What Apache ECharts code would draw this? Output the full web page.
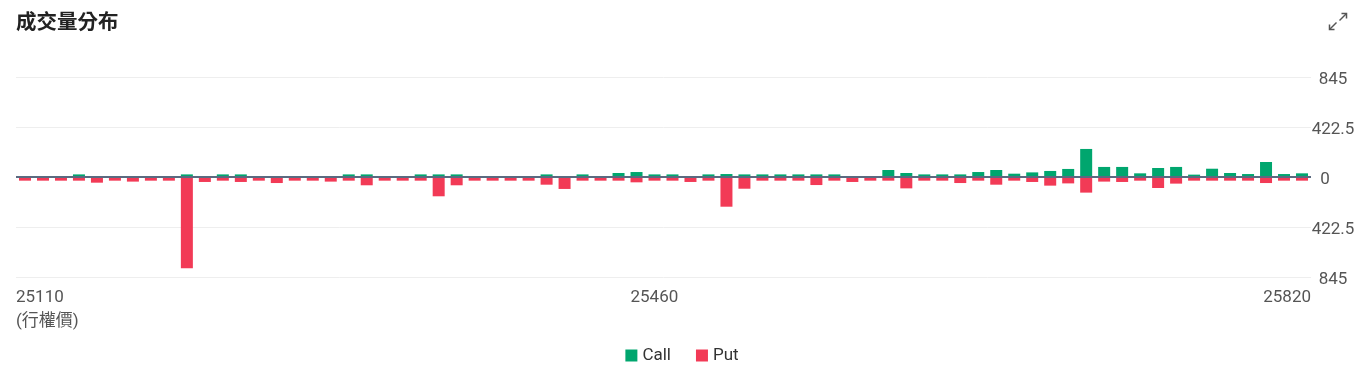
<!DOCTYPE html>
<html>
<head>
<meta charset="utf-8">
<script src="https://cdn.jsdelivr.net/npm/echarts@6/dist/echarts.min.js"></script>
<style>
html,body{margin:0;padding:0;background:#fff;}
#chart{width:1364px;height:376px;}
</style>
</head>
<body>
<div id="chart"></div>
<script>
const strikes = [
  '25110','25120','25130','25140','25150','25160','25170','25180','25190','25200',
  '25210','25220','25230','25240','25250','25260','25270','25280','25290','25300',
  '25310','25320','25330','25340','25350','25360','25370','25380','25390','25400',
  '25410','25420','25430','25440','25450','25460','25470','25480','25490','25500',
  '25510','25520','25530','25540','25550','25560','25570','25580','25590','25600',
  '25610','25620','25630','25640','25650','25660','25670','25680','25690','25700',
  '25710','25720','25730','25740','25750','25760','25770','25780','25790','25800',
  '25810','25820'
];
const callVolume = [
  0,0,0,22,0,0,0,0,0,22,
  0,22,22,0,0,0,0,0,22,22,
  0,0,22,22,22,0,0,0,0,22,
  0,22,0,34,42,22,22,0,22,25,
  22,22,22,22,22,22,0,0,59,34,
  22,22,22,42,59,28,39,51,68,237,
  85,85,31,76,85,20,70,34,25,127,
  25,31
];
const putVolume = [
  31,31,31,31,48,31,39,31,31,772,
  42,31,42,31,51,31,31,39,31,70,
  31,31,31,163,70,31,31,31,31,65,
  101,31,31,31,45,31,31,42,31,251,
  99,31,31,31,68,31,42,31,31,96,
  31,31,51,31,65,31,42,73,54,132,
  39,42,31,93,56,31,31,31,31,51,
  31,31
];
const yTicks = { min: -845, max: 845, interval: 422.5 };
const labelIndexes = [0, 35, 71];
const axisName = '(行權價)';

const FONT = 'Roboto, "Noto Sans CJK TC", sans-serif';
const chart = echarts.init(document.getElementById('chart'), null, { renderer: 'canvas' });

chart.setOption({
  backgroundColor: '#ffffff',
  animation: false,
  title: {
    text: '成交量分布',
    left: 11,
    top: 6,
    textStyle: { fontSize: 20.5, fontWeight: 'bold', color: '#222', fontFamily: '"Noto Sans CJK TC", sans-serif' }
  },
  legend: {
    data: ['Call', 'Put'],
    left: 'center',
    top: 342,
    icon: 'rect',
    itemWidth: 12,
    itemHeight: 12,
    itemGap: 25,
    textStyle: { fontSize: 17, color: '#333', fontFamily: FONT }
  },
  grid: { left: 16, right: 53, top: 77, bottom: 99, containLabel: false },
  xAxis: [
    {
      type: 'category',
      position: 'bottom',
      data: strikes,
      boundaryGap: true,
      axisLine: { show: false },
      axisTick: { show: false },
      axisLabel: { show: false },
      splitLine: { show: false }
    },
    {
      type: 'category',
      position: 'bottom',
      data: strikes,
      boundaryGap: false,
      axisLine: { show: false },
      axisTick: { show: false },
      splitLine: { show: false },
      axisLabel: {
        show: true,
        margin: 9,
        interval: function (idx) { return labelIndexes.indexOf(idx) >= 0; },
        formatter: function (v, idx) { return idx === 0 ? v + '\n' + axisName : v; },
        alignMinLabel: 'left',
        alignMaxLabel: 'right',
        fontSize: 17,
        lineHeight: 24,
        color: '#555',
        fontFamily: FONT
      }
    }
  ],
  yAxis: {
    type: 'value',
    position: 'right',
    min: yTicks.min,
    max: yTicks.max,
    interval: yTicks.interval,
    axisLine: { show: false },
    axisTick: { show: false },
    splitLine: { show: true, lineStyle: { color: '#eeeeee', width: 1 } },
    axisLabel: {
      margin: 22,
      align: 'center',
      fontSize: 17,
      color: '#555',
      fontFamily: FONT,
      padding: [5, 0, 0, 0],
      formatter: function (v) { return v === 0 ? '{z|0}' : String(Math.abs(v)); },
      rich: { z: { fontSize: 17, color: '#555', fontFamily: FONT, padding: [0, 16, 0, 0] } }
    }
  },
  series: [
    {
      name: 'Call',
      type: 'bar',
      stack: 'vol',
      xAxisIndex: 0,
      barWidth: 12,
      itemStyle: { color: '#00a66e' },
      data: callVolume
    },
    {
      name: 'Put',
      type: 'bar',
      stack: 'vol',
      xAxisIndex: 0,
      barWidth: 12,
      itemStyle: { color: '#f23a56' },
      data: putVolume.map(function (v) { return -v; }),
      markLine: {
        silent: true,
        symbol: ['none', 'none'],
        label: { show: false },
        lineStyle: { color: '#5b6a80', width: 2, type: 'solid' },
        data: [{ yAxis: 0 }]
      }
    }
  ],
  graphic: [
    {
      type: 'group',
      left: 1327,
      top: 11,
      children: [
        { type: 'polyline', shape: { points: [[11, 9], [18, 2]] }, style: { stroke: '#555', lineWidth: 1.5, fill: null } },
        { type: 'polyline', shape: { points: [[13, 2], [18, 2], [18, 7]] }, style: { stroke: '#555', lineWidth: 1.5, fill: null } },
        { type: 'polyline', shape: { points: [[8, 11], [1, 18]] }, style: { stroke: '#555', lineWidth: 1.5, fill: null } },
        { type: 'polyline', shape: { points: [[1, 13], [1, 18], [6, 18]] }, style: { stroke: '#555', lineWidth: 1.5, fill: null } }
      ]
    }
  ]
});
</script>
</body>
</html>
